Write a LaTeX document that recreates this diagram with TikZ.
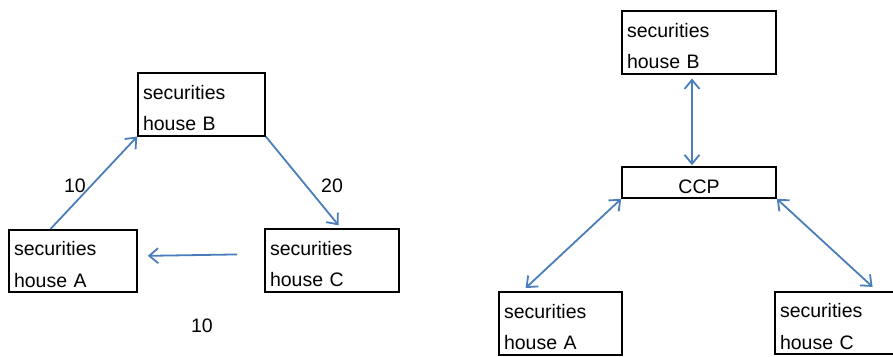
\documentclass[tikz,border=0pt]{standalone}
\usepackage{fontspec}
\setmainfont{Liberation Sans}
\usetikzlibrary{arrows.meta}
\definecolor{linkblue}{HTML}{4A7EBB}
\begin{document}
\begin{tikzpicture}[x=1pt,y=-1pt,
    house/.style={draw, line width=1.6pt, rectangle, align=left, inner xsep=5pt, inner ysep=0pt,
      minimum height=62.5pt, font=\fontsize{19.5}{31.5}\selectfont,
      execute at begin node={\rule{0pt}{21.5pt}}},
    hub/.style={draw, line width=1.6pt, rectangle, minimum width=154pt, minimum height=31pt,
      inner sep=0pt, text height=21pt, text depth=0pt, font=\fontsize{19.5}{31.5}\selectfont},
    amount/.style={font=\fontsize{19.5}{24}\selectfont},
    link/.style={draw=linkblue, line width=1.8pt, -{Straight Barb[length=9pt,width=15pt]}},
    twoway/.style={draw=linkblue, line width=1.8pt, {Straight Barb[length=9pt,width=15pt]}-{Straight Barb[length=9pt,width=15pt]}}]
  \useasboundingbox (0,0) rectangle (893,356);
  % bilateral
  \draw
    (201.5,104.5) node[house, text width=117pt] (hB){securities\\house B}
    (73,261) node[house, text width=118pt] (hA){securities\\house A}
    (332,260.5) node[house, text width=124pt] (hC){securities\\house C}
    (75,186) node[amount] (amtAB){10}
    (332,186) node[amount] (amtBC){20}
    (202,326) node[amount] (amtCA){10};
  % central counterparty
  \draw
    (699,42.5) node[house, text width=144pt] (rB){securities\\house B}
    (699,182.5) node[hub] (ccp){CCP}
    (560.5,323.5) node[house, text width=113pt] (rA){securities\\house A}
    (837.5,323) node[house, text width=115pt] (rC){securities\\house C};
  \begin{scope}
    \draw[link] (hA.125) to (hB.south west);
    \draw[link, shorten >=4pt] (hB.south east) to (hC.74);
    \draw[link, shorten <=27pt, shorten >=10pt] ([yshift=6.5pt]hC.west) to ([yshift=5pt]hA.east);
    \draw[twoway, shorten <=4pt, shorten >=1pt] ([xshift=-7pt]rB.south) to ([xshift=-7pt]ccp.north);
    \draw[twoway, shorten >=5pt] (ccp.south west) to ([xshift=-38.5pt]rA.north);
    \draw[twoway, shorten >=6pt] (ccp.south east) to ([xshift=39.5pt]rC.north);
  \end{scope}
\end{tikzpicture}
\end{document}
